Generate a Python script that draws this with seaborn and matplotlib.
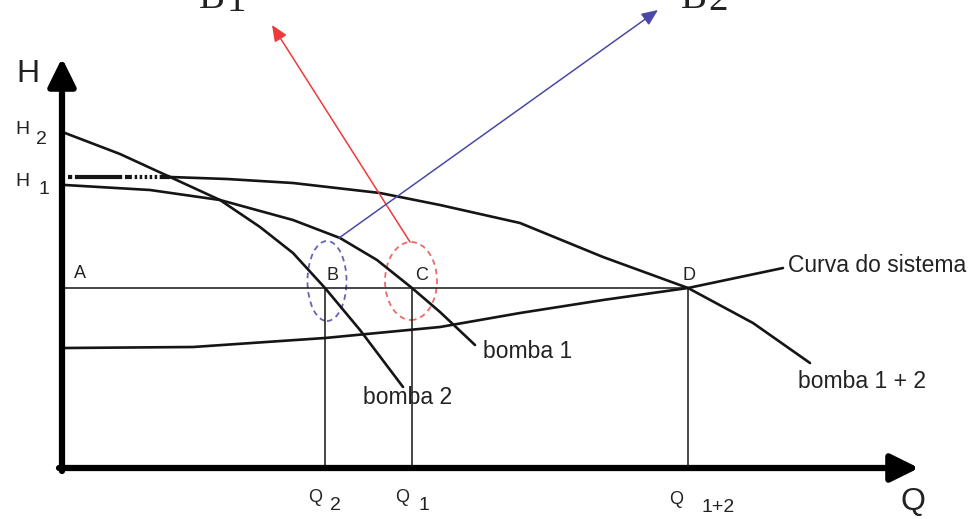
import matplotlib
matplotlib.use("Agg")
import matplotlib.pyplot as plt
from matplotlib.patches import Ellipse
import seaborn as sns

# ---- data (Q = flow, H = head, arbitrary units) ----
bomba2_Q = [3, 58, 108, 158, 198, 231, 263, 298, 341]
bomba2_H = [335, 314, 291, 268, 241, 215, 180, 138, 81]

bomba1_Q = [3, 88, 158, 231, 278, 315, 350, 378, 413]
bomba1_H = [283, 278, 268, 248, 230, 208, 180, 156, 123]

bomba12_Q = [108, 165, 231, 318, 378, 458, 541, 626, 691, 748]
bomba12_H = [291, 289, 285, 275, 263, 245, 211, 180, 145, 105]
shutoff12_Q = [6, 108]
shutoff12_H = [291, 291]

sistema_Q = [3, 131, 263, 378, 458, 541, 626, 721]
sistema_H = [120, 121, 130, 141, 155, 168, 180, 200]

Q2, Q1, Q12 = 263, 350, 626
H_op = 180

sns.set_theme(style="white")
plt.rcParams['font.family'] = ['Liberation Sans', 'DejaVu Sans']
plt.rcParams['lines.scale_dashes'] = False

fig = plt.figure(figsize=(9.79, 5.19), dpi=100)
ax = fig.add_axes([0, 0, 1, 1])
ax.set_xlim(-62, 917)
ax.set_ylim(-51, 468)
ax.axis('off')

curve_kw = dict(color='#151515', lw=1.9, sort=False, estimator=None, ax=ax)
sns.lineplot(x=bomba2_Q, y=bomba2_H, **curve_kw)
sns.lineplot(x=bomba1_Q, y=bomba1_H, **curve_kw)
sns.lineplot(x=bomba12_Q, y=bomba12_H, **curve_kw)
sns.lineplot(x=sistema_Q, y=sistema_H, **curve_kw)
n0 = len(ax.lines)
sns.lineplot(x=shutoff12_Q, y=shutoff12_H, color='#151515', lw=3.0,
             sort=False, estimator=None, ax=ax)
ax.lines[n0].set_dashes([3, 2, 34, 2, 5, 2] + [1.8, 1.8] * 5 + [8, 0])

# operating line and verticals
sns.lineplot(x=[0, Q12], y=[H_op, H_op], color='#151515', lw=1.1,
             sort=False, estimator=None, ax=ax)
for q in (Q2, Q1, Q12):
    sns.lineplot(x=[q, q], y=[0, H_op], color='#151515', lw=1.1,
                 sort=False, estimator=None, ax=ax)

# axes arrows
arrow_axis = dict(arrowstyle='-|>,head_width=0.42,head_length=0.85',
                  lw=4.5, color='black', mutation_scale=20,
                  shrinkA=0, shrinkB=0)
ax.annotate("", xy=(0, 410), xytext=(0, -3), arrowprops=arrow_axis)
ax.annotate("", xy=(857, 0), xytext=(-3, 0), arrowprops=arrow_axis)

# dashed ellipses
ax.add_patch(Ellipse((265, 187), 39, 80, fill=False, ls=(0, (4, 3)),
                     lw=1.3, ec='#6464b4'))
ax.add_patch(Ellipse((349, 187), 52, 78, fill=False, ls=(0, (4, 3)),
                     lw=1.3, ec='#ee6a6a'))

# red / blue arrows
ax.annotate("", xy=(210, 443), xytext=(348, 226),
            arrowprops=dict(arrowstyle='-|>,head_width=0.3,head_length=0.7',
                            lw=1.1, color='#f03a3a', mutation_scale=14,
                            shrinkA=0, shrinkB=0))
ax.annotate("", xy=(596, 458), xytext=(277, 230),
            arrowprops=dict(arrowstyle='-|>,head_width=0.3,head_length=0.7',
                            lw=1.1, color='#4a4aa6', mutation_scale=14,
                            shrinkA=0, shrinkB=0))

# cropped heading glyphs at the very top
serif = ['Liberation Serif', 'DejaVu Serif']
ax.text(137, 460, "B", fontsize=28, family=serif, color='#222222',
        ha='left', va='baseline')
ax.text(165, 457, "1", fontsize=28, family=serif, color='#222222',
        ha='left', va='baseline')
ax.text(619, 460, "B", fontsize=28, family=serif, color='#222222',
        ha='left', va='baseline')
ax.text(646, 458, "2", fontsize=28, family=serif, color='#222222',
        ha='left', va='baseline')

txt = dict(color='#222222', va='center')
ax.text(-34, 394, "H", fontsize=23, ha='center', **txt)
ax.text(-47, 338, "H", fontsize=14, ha='left', **txt)
ax.text(-26, 328, "2", fontsize=14, ha='left', **txt)
ax.text(-47, 287, "H", fontsize=14, ha='left', **txt)
ax.text(-24, 279, "1", fontsize=14, ha='left', **txt)

ax.text(18, 194, "A", fontsize=13, ha='center', **txt)
ax.text(271, 193, "B", fontsize=13, ha='center', **txt)
ax.text(360, 193, "C", fontsize=13, ha='center', **txt)
ax.text(627, 193, "D", fontsize=13, ha='center', **txt)

ax.text(726, 203, "Curva do sistema", fontsize=16.5, ha='left', **txt)
ax.text(421, 116, "bomba 1", fontsize=16.5, ha='left', **txt)
ax.text(301, 71, "bomba 2", fontsize=16.5, ha='left', **txt)
ax.text(736, 86, "bomba 1 + 2", fontsize=16.5, ha='left', **txt)

ax.text(253, -30, "Q", fontsize=13, ha='center', **txt)
ax.text(273, -37, "2", fontsize=14, ha='center', **txt)
ax.text(340, -30, "Q", fontsize=13, ha='center', **txt)
ax.text(362, -37, "1", fontsize=14, ha='center', **txt)
ax.text(614, -32, "Q", fontsize=13, ha='center', **txt)
ax.text(656, -40, "1+2", fontsize=14, ha='center', **txt)
ax.text(851, -34, "Q", fontsize=23, ha='center', **txt)

fig.savefig("out.png", dpi=100, facecolor='white')
